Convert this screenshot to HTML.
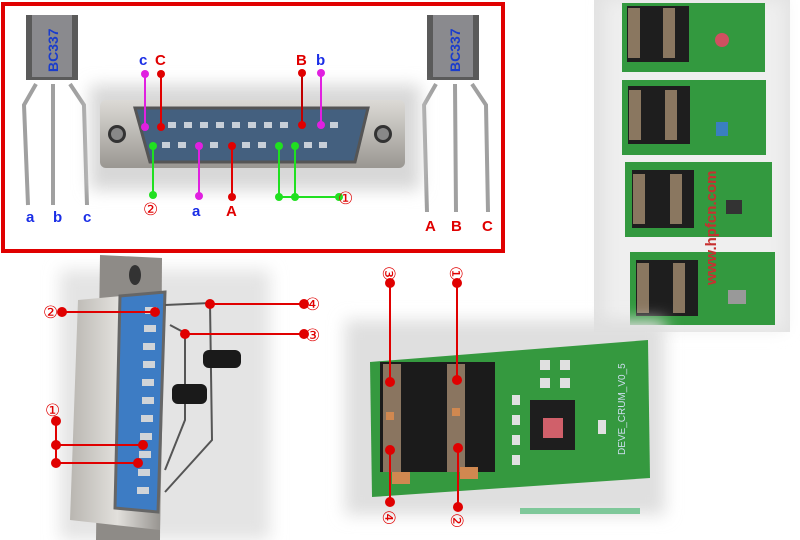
<!DOCTYPE html>
<html><head><meta charset="utf-8"><style>
body{margin:0;background:#fff;}
svg{display:block;font-family:"Liberation Sans",sans-serif;}
</style></head><body>
<svg width="800" height="540" viewBox="0 0 800 540">
<defs>
<filter id="b" x="-20%" y="-20%" width="140%" height="140%"><feGaussianBlur stdDeviation="8"/></filter>
<linearGradient id="metal" x1="0" x2="1"><stop offset="0" stop-color="#b9b6b1"/><stop offset="0.5" stop-color="#e2e0dc"/><stop offset="1" stop-color="#8f8c88"/></linearGradient>
<linearGradient id="mv" x1="0" y1="0" x2="0" y2="1"><stop offset="0" stop-color="#dcdad6"/><stop offset="1" stop-color="#9a9792"/></linearGradient>
</defs>
<rect x="594" y="0" width="196" height="332" fill="#e2e2e2"/>
<rect x="605" y="0" width="180" height="330" fill="#efefef" filter="url(#b)"/>
<g>
<rect x="622" y="3" width="143" height="69" fill="#33993f"/>
<rect x="627" y="6" width="62" height="56" fill="#1e1e1e"/>
<rect x="628" y="8" width="12" height="50" fill="#8a7760"/><rect x="663" y="8" width="12" height="50" fill="#8a7760"/>
<circle cx="722" cy="40" r="7" fill="#d05060"/>
<rect x="622" y="80" width="144" height="75" fill="#33993f"/>
<rect x="628" y="86" width="62" height="58" fill="#1e1e1e"/>
<rect x="629" y="90" width="12" height="50" fill="#8a7760"/><rect x="665" y="90" width="12" height="50" fill="#8a7760"/>
<rect x="716" y="122" width="12" height="14" fill="#3a7fc0"/>
<rect x="625" y="162" width="147" height="75" fill="#33993f"/>
<rect x="632" y="170" width="62" height="58" fill="#1e1e1e"/>
<rect x="633" y="174" width="12" height="50" fill="#8a7760"/><rect x="670" y="174" width="12" height="50" fill="#8a7760"/>
<rect x="726" y="200" width="16" height="14" fill="#333"/>
<rect x="630" y="252" width="145" height="73" fill="#33993f"/>
<rect x="636" y="260" width="62" height="56" fill="#1e1e1e"/>
<rect x="637" y="263" width="12" height="50" fill="#8a7760"/><rect x="673" y="263" width="12" height="50" fill="#8a7760"/>
<rect x="728" y="290" width="18" height="14" fill="#999"/>
<text fill="#c83030" font-size="15" font-weight="bold" transform="translate(716,285) rotate(-90)">www.hpfcn.com</text>
</g>
<rect x="3" y="4" width="500" height="247" fill="#fff" stroke="#e00000" stroke-width="4"/>
<rect x="26" y="15" width="52" height="65" fill="#5a5a5a"/>
<rect x="32" y="15" width="40" height="62" fill="#8a8a8e"/>
<text fill="#1a3ccc" font-size="14" font-weight="bold" transform="translate(58,72) rotate(-90)">BC337</text>
<path d="M36 84 L24 105 L28 205 M53 84 L53 205 M70 84 L84 105 L87 205" stroke="#a0a0a0" stroke-width="4" fill="none"/>
<text x="26" y="222" fill="#1a2ee6" font-size="15" font-weight="bold">a</text>
<text x="53" y="222" fill="#1a2ee6" font-size="15" font-weight="bold">b</text>
<text x="83" y="222" fill="#1a2ee6" font-size="15" font-weight="bold">c</text>
<rect x="427" y="15" width="52" height="65" fill="#5a5a5a"/>
<rect x="433" y="15" width="40" height="62" fill="#8a8a8e"/>
<text fill="#1a3ccc" font-size="14" font-weight="bold" transform="translate(460,72) rotate(-90)">BC337</text>
<path d="M436 84 L424 105 L427 212 M455 84 L456 212 M472 84 L486 105 L488 212" stroke="#a0a0a0" stroke-width="4" fill="none"/>
<text x="425" y="231" fill="#e00000" font-size="15" font-weight="bold">A</text>
<text x="451" y="231" fill="#e00000" font-size="15" font-weight="bold">B</text>
<text x="482" y="231" fill="#e00000" font-size="15" font-weight="bold">C</text>
<rect x="90" y="85" width="330" height="105" fill="#d8d8d8" filter="url(#b)"/>
<rect x="100" y="100" width="305" height="68" rx="6" fill="url(#mv)"/>
<circle cx="117" cy="134" r="9" fill="#333"/><circle cx="117" cy="134" r="6" fill="#888"/>
<circle cx="383" cy="134" r="9" fill="#333"/><circle cx="383" cy="134" r="6" fill="#888"/>
<path d="M135 108 L368 108 L355 162 L150 162 Z" fill="#44607f" stroke="#555" stroke-width="3"/>
<g fill="#c8cfd8">
<rect x="168" y="122" width="8" height="6"/><rect x="184" y="122" width="8" height="6"/><rect x="200" y="122" width="8" height="6"/><rect x="216" y="122" width="8" height="6"/><rect x="232" y="122" width="8" height="6"/><rect x="248" y="122" width="8" height="6"/><rect x="264" y="122" width="8" height="6"/><rect x="280" y="122" width="8" height="6"/><rect x="330" y="122" width="8" height="6"/>
<rect x="162" y="142" width="8" height="6"/><rect x="178" y="142" width="8" height="6"/><rect x="210" y="142" width="8" height="6"/><rect x="242" y="142" width="8" height="6"/><rect x="258" y="142" width="8" height="6"/><rect x="304" y="142" width="8" height="6"/><rect x="319" y="142" width="8" height="6"/>
</g>
<g stroke-width="2">
<line x1="145" y1="74" x2="145" y2="127" stroke="#e020e0"/><circle cx="145" cy="74" r="4" fill="#e020e0"/><circle cx="145" cy="127" r="4" fill="#e020e0"/>
<line x1="161" y1="74" x2="161" y2="127" stroke="#e00000"/><circle cx="161" cy="74" r="4" fill="#e00000"/><circle cx="161" cy="127" r="4" fill="#e00000"/>
<line x1="302" y1="73" x2="302" y2="125" stroke="#c00000"/><circle cx="302" cy="73" r="4" fill="#e00000"/><circle cx="302" cy="125" r="4" fill="#e00000"/>
<line x1="321" y1="73" x2="321" y2="125" stroke="#e020e0"/><circle cx="321" cy="73" r="4" fill="#e020e0"/><circle cx="321" cy="125" r="4" fill="#e020e0"/>
<line x1="199" y1="146" x2="199" y2="196" stroke="#e020e0"/><circle cx="199" cy="146" r="4" fill="#e020e0"/><circle cx="199" cy="196" r="4" fill="#e020e0"/>
<line x1="232" y1="146" x2="232" y2="197" stroke="#e00000"/><circle cx="232" cy="146" r="4" fill="#e00000"/><circle cx="232" cy="197" r="4" fill="#e00000"/>
<path d="M153 146 V196 M279 146 V197 M295 146 V197 M279 197 H340" stroke="#20e020" fill="none"/>
<circle cx="153" cy="146" r="4" fill="#20e020"/><circle cx="153" cy="195" r="4" fill="#20e020"/>
<circle cx="279" cy="146" r="4" fill="#20e020"/><circle cx="295" cy="146" r="4" fill="#20e020"/>
<circle cx="279" cy="197" r="4" fill="#20e020"/><circle cx="295" cy="197" r="4" fill="#20e020"/><circle cx="339" cy="197" r="4" fill="#20e020"/>
</g>
<text x="139" y="65" fill="#1a2ee6" font-size="15" font-weight="bold">c</text>
<text x="155" y="65" fill="#e00000" font-size="15" font-weight="bold">C</text>
<text x="296" y="65" fill="#e00000" font-size="15" font-weight="bold">B</text>
<text x="316" y="65" fill="#1a2ee6" font-size="15" font-weight="bold">b</text>
<text x="192" y="216" fill="#1a2ee6" font-size="15" font-weight="bold">a</text>
<text x="226" y="216" fill="#e00000" font-size="15" font-weight="bold">A</text>
<text x="143" y="215" fill="#e00000" font-size="17">②</text>
<text x="338" y="204" fill="#e00000" font-size="17">①</text>
<rect x="60" y="270" width="210" height="270" fill="#e4e4e4" filter="url(#b)"/>
<path d="M100 255 L162 258 L160 540 L96 540 Z" fill="#8e8b87"/>
<ellipse cx="135" cy="275" rx="6" ry="10" fill="#333"/>
<path d="M78 300 L165 292 L160 530 L70 520 Z" fill="url(#metal)"/>
<path d="M120 296 L165 292 L158 512 L115 508 Z" fill="#3d7cc4" stroke="#666" stroke-width="3"/>
<g fill="#d0d4d8"><rect x="145" y="307" width="12" height="7"/><rect x="144" y="325" width="12" height="7"/><rect x="143" y="343" width="12" height="7"/><rect x="143" y="361" width="12" height="7"/><rect x="142" y="379" width="12" height="7"/><rect x="142" y="397" width="12" height="7"/><rect x="141" y="415" width="12" height="7"/><rect x="140" y="433" width="12" height="7"/><rect x="139" y="451" width="12" height="7"/><rect x="138" y="469" width="12" height="7"/><rect x="137" y="487" width="12" height="7"/></g>
<path d="M165 305 L210 303 L212 440 L165 492 M170 325 L185 333 L185 420 L165 470" stroke="#555" stroke-width="2" fill="none"/>
<rect x="203" y="350" width="38" height="18" rx="6" fill="#1a1a1a"/>
<rect x="172" y="384" width="35" height="20" rx="6" fill="#1a1a1a"/>
<g stroke="#e00000" stroke-width="2" fill="#e00000">
<line x1="62" y1="312" x2="155" y2="312"/><circle cx="62" cy="312" r="4"/><circle cx="155" cy="312" r="4"/>
<line x1="210" y1="304" x2="304" y2="304"/><circle cx="210" cy="304" r="4"/><circle cx="304" cy="304" r="4"/>
<line x1="185" y1="334" x2="304" y2="334"/><circle cx="185" cy="334" r="4"/><circle cx="304" cy="334" r="4"/>
<path d="M56 421 V464 M56 445 H143 M56 463 H138" fill="none"/>
<circle cx="56" cy="421" r="4"/><circle cx="56" cy="445" r="4"/><circle cx="56" cy="463" r="4"/><circle cx="143" cy="445" r="4"/><circle cx="138" cy="463" r="4"/>
</g>
<text x="43" y="318" fill="#e00000" font-size="17">②</text>
<text x="305" y="310" fill="#e00000" font-size="17">④</text>
<text x="305" y="341" fill="#e00000" font-size="17">③</text>
<text x="45" y="416" fill="#e00000" font-size="17">①</text>
<rect x="345" y="320" width="320" height="195" fill="#dfdfdf" filter="url(#b)"/>
<path d="M370 362 L648 340 L650 478 L372 497 Z" fill="#35993f"/>
<rect x="380" y="362" width="115" height="110" fill="#1b1b1b"/>
<rect x="383" y="364" width="18" height="108" fill="#8a7560"/><rect x="447" y="364" width="18" height="108" fill="#8a7560"/>
<rect x="386" y="412" width="8" height="8" fill="#d08850"/><rect x="452" y="408" width="8" height="8" fill="#d08850"/>
<rect x="392" y="472" width="18" height="12" fill="#d08850"/><rect x="460" y="467" width="18" height="12" fill="#d08850"/>
<rect x="530" y="400" width="45" height="50" fill="#1e1e1e"/>
<rect x="543" y="418" width="20" height="20" fill="#d0606a"/>
<g fill="#e0e0e0"><rect x="540" y="360" width="10" height="10"/><rect x="560" y="360" width="10" height="10"/><rect x="540" y="378" width="10" height="10"/><rect x="560" y="378" width="10" height="10"/><rect x="512" y="395" width="8" height="10"/><rect x="512" y="415" width="8" height="10"/><rect x="512" y="435" width="8" height="10"/><rect x="512" y="455" width="8" height="10"/><rect x="598" y="420" width="8" height="14"/></g>
<text fill="#cde" font-size="10" transform="translate(625,455) rotate(-90)">DEVE_CRUM_V0_5</text>
<g stroke="#e00000" stroke-width="2" fill="#e00000">
<line x1="390" y1="283" x2="390" y2="382"/><circle cx="390" cy="283" r="4"/><circle cx="390" cy="382" r="4"/>
<line x1="457" y1="283" x2="457" y2="380"/><circle cx="457" cy="283" r="4"/><circle cx="457" cy="380" r="4"/>
<line x1="390" y1="450" x2="390" y2="502"/><circle cx="390" cy="450" r="4"/><circle cx="390" cy="502" r="4"/>
<line x1="458" y1="448" x2="458" y2="507"/><circle cx="458" cy="448" r="4"/><circle cx="458" cy="507" r="4"/>
</g>
<text fill="#e00000" font-size="17" transform="translate(383,266) rotate(90)">③</text>
<text fill="#e00000" font-size="17" transform="translate(450,266) rotate(90)">①</text>
<text fill="#e00000" font-size="17" transform="translate(383,510) rotate(90)">④</text>
<text fill="#e00000" font-size="17" transform="translate(451,513) rotate(90)">②</text>
<rect x="520" y="508" width="120" height="6" fill="#7fc89a"/>
</svg>
</body></html>
